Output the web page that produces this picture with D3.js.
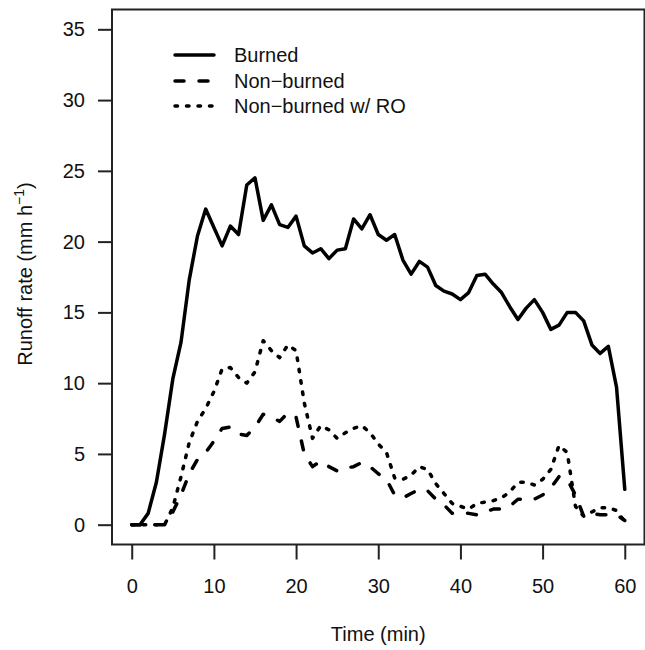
<!DOCTYPE html>
<html>
<head>
<meta charset="utf-8">
<script src="https://cdn.jsdelivr.net/npm/d3@7"></script>
<style>
  body { margin: 0; background: #fff; }
  svg text { font-family: "Liberation Sans", Arial, Helvetica, sans-serif; fill: #111; }
</style>
</head>
<body>
<svg id="chart" width="645" height="650"></svg>
<script>
// time in minutes, one reading per minute
const minutes = d3.range(0, 61);

const burned = [0, 0, 0.8, 3.0, 6.4, 10.3, 12.9, 17.3, 20.4, 22.3,
  21.0, 19.7, 21.1, 20.5, 24.0, 24.5, 21.5, 22.6, 21.2, 21.0,
  21.8, 19.7, 19.2, 19.5, 18.8, 19.4, 19.5, 21.6, 20.9, 21.9,
  20.5, 20.1, 20.5, 18.7, 17.7, 18.6, 18.2, 16.9, 16.5, 16.3,
  15.9, 16.4, 17.6, 17.7, 17.0, 16.4, 15.4, 14.5, 15.3, 15.9,
  15.0, 13.8, 14.1, 15.0, 15.0, 14.4, 12.7, 12.1, 12.6, 9.7, 2.5];

const nonBurned = [0, 0, 0, 0, 0, 0.9, 2.1, 3.6, 4.6, 5.1,
  5.9, 6.8, 6.9, 6.4, 6.3, 6.9, 7.8, 7.6, 7.3, 7.9,
  7.6, 5.0, 4.1, 4.5, 4.1, 3.8, 4.0, 4.1, 4.4, 4.1,
  3.6, 3.2, 2.1, 1.9, 2.2, 2.5, 2.4, 1.8, 1.4, 0.8,
  0.8, 0.8, 0.7, 0.9, 1.1, 1.1, 1.3, 1.8, 1.8, 1.8,
  2.1, 2.6, 3.4, 3.2, 2.1, 0.6, 0.8, 0.7, 0.7, 0.7, 0.3];

const nonBurnedRO = [0, 0, 0, 0, 0, 1.2, 3.4, 5.8, 7.3, 8.2,
  9.4, 11.0, 11.1, 10.4, 10.0, 10.8, 13.0, 12.3, 11.8, 12.7,
  12.3, 8.6, 6.1, 7.0, 6.7, 6.1, 6.5, 6.8, 7.0, 6.5,
  5.7, 5.1, 3.3, 3.2, 3.5, 4.1, 3.9, 2.9, 2.2, 1.5,
  1.3, 1.1, 1.5, 1.6, 1.7, 1.9, 2.3, 3.0, 3.0, 2.8,
  3.2, 3.9, 5.6, 5.1, 1.3, 0.6, 0.9, 1.2, 1.2, 1.0, 0.2];

const seriesNames = ["Burned", "Non\u2212burned", "Non\u2212burned w/ RO"];
const xTicks = [0, 10, 20, 30, 40, 50, 60];
const yTicks = [0, 5, 10, 15, 20, 25, 30, 35];

const svg = d3.select("#chart");
const box = {left: 112, right: 644.5, top: 9.5, bottom: 544.5};

// R-style 4% padding around the data range
const x = d3.scaleLinear().domain([-2.4, 62.4]).range([box.left, box.right]);
const y = d3.scaleLinear().domain([-1.4, 36.4]).range([box.bottom, box.top]);

const dashes = ["none", "9 15", "2.5 9"];
const allSeries = [burned, nonBurned, nonBurnedRO];

const line = d3.line()
  .x((d, i) => x(minutes[i]))
  .y(d => y(d));

allSeries.forEach(function(s, k) {
  svg.append("path")
    .datum(s)
    .attr("fill", "none")
    .attr("stroke", "#000")
    .attr("stroke-width", 3.5)
    .attr("stroke-linejoin", "round")
    .attr("stroke-linecap", "round")
    .attr("stroke-dasharray", dashes[k])
    .attr("d", line);
});

// plot box
svg.append("rect")
  .attr("x", box.left).attr("y", box.top)
  .attr("width", box.right - box.left).attr("height", box.bottom - box.top)
  .attr("fill", "none").attr("stroke", "#222").attr("stroke-width", 2);

const xAxis = svg.append("g")
  .attr("transform", "translate(0," + box.bottom + ")")
  .call(d3.axisBottom(x).tickValues(xTicks).tickSize(15).tickPadding(19));
const yAxis = svg.append("g")
  .attr("transform", "translate(" + box.left + ",0)")
  .call(d3.axisLeft(y).tickValues(yTicks).tickSize(14).tickPadding(13));

[xAxis, yAxis].forEach(function(a) {
  a.select(".domain").remove();
  a.selectAll(".tick line").attr("stroke", "#222").attr("stroke-width", 2);
  a.selectAll(".tick text").attr("font-size", 20).attr("fill", "#111")
    .style("font-family", '"Liberation Sans", Arial, sans-serif');
});

// axis titles
svg.append("text")
  .attr("x", (box.left + box.right) / 2).attr("y", 641)
  .attr("text-anchor", "middle").attr("font-size", 20)
  .text("Time (min)");

const yt = svg.append("text")
  .attr("transform", "translate(32," + ((box.top + box.bottom) / 2 - 3) + ") rotate(-90)")
  .attr("text-anchor", "middle").attr("font-size", 20);
yt.append("tspan").text("Runoff rate (mm h");
yt.append("tspan").attr("font-size", 14).attr("dy", -8).text("\u22121");
yt.append("tspan").attr("dy", 8).text(")");

// legend
const legend = svg.append("g");
const legendRows = [55, 81, 106];
seriesNames.forEach(function(name, k) {
  legend.append("line")
    .attr("x1", 175).attr("x2", 214)
    .attr("y1", legendRows[k]).attr("y2", legendRows[k])
    .attr("stroke", "#000").attr("stroke-width", 3.5)
    .attr("stroke-linecap", "round")
    .attr("stroke-dasharray", dashes[k]);
  legend.append("text")
    .attr("x", 234).attr("y", legendRows[k])
    .attr("dy", "0.35em").attr("font-size", 20)
    .text(name);
});
</script>
</body>
</html>
